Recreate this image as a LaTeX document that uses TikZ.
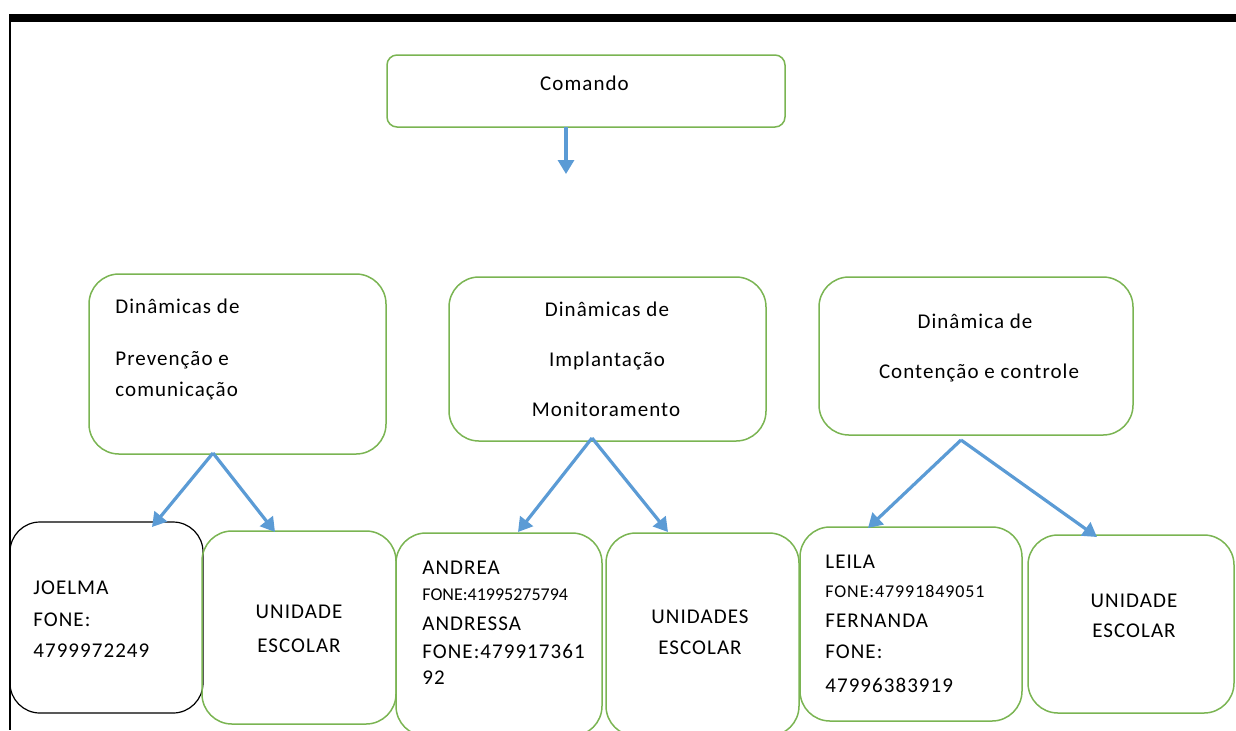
\documentclass[tikz,border=0pt]{standalone}
\usepackage{fontspec}
\setmainfont{Carlito}[LetterSpace=5]
\usetikzlibrary{arrows.meta}
\definecolor{boxgreen}{HTML}{7AB452}
\definecolor{arrblue}{HTML}{5B9BD5}
\tikzset{
  gbox/.style={draw=boxgreen, line width=0.75pt, rounded corners=15pt, inner sep=0pt},
  bbox/.style={draw=black, line width=0.6pt, rounded corners=15pt, inner sep=0pt},
  arr/.style={draw=arrblue, line width=1.6pt, -{Triangle[width=8pt,length=7pt]}},
  tl/.style={anchor=base west, inner sep=0pt, font=\fontsize{10.5}{12}\selectfont},
  tc/.style={anchor=base, inner sep=0pt, font=\fontsize{10.5}{12}\selectfont},
  ts/.style={anchor=base west, inner sep=0pt, font=\fontsize{9}{11}\selectfont},
  tss/.style={anchor=base west, inner sep=0pt, font=\fontsize{9}{11}\selectfont\addfontfeature{LetterSpace=0}},
}
\begin{document}
\begin{tikzpicture}[x=0.5pt,y=-0.5pt]
\useasboundingbox (0,0) rectangle (1236,730);
\clip (0,0) rectangle (1236,730);
% frame
\fill[black] (9,14) rectangle (1236,21.5);
\draw[black, line width=0.8pt] (10,14) -- (10,730);
% boxes
\node[gbox, rounded corners=5pt, minimum width=199pt, minimum height=36pt] (cmd) at (586,91) {};
\node[gbox, minimum width=148.5pt, minimum height=90pt] (pa) at (237.5,364) {};
\node[gbox, minimum width=158.5pt, minimum height=82pt] (pb) at (607.5,359) {};
\node[gbox, minimum width=157pt, minimum height=79pt] (pc) at (976,356) {};
\node[bbox, minimum width=96.5pt, minimum height=95.5pt] (jo) at (106.5,617.5) {};
\node[gbox, minimum width=97pt, minimum height=96.5pt] (u1) at (299,627.5) {};
\node[gbox, minimum width=103pt, minimum height=101.5pt] (an) at (499,634.5) {};
\node[gbox, minimum width=96.5pt, minimum height=101.5pt] (u2) at (702.5,634.5) {};
\node[gbox, minimum width=111pt, minimum height=97pt] (le) at (911,624) {};
\node[gbox, minimum width=103pt, minimum height=89pt] (u3) at (1131,624) {};
% texts
\node[tc] (tcmd) at (584.5,90) {Comando};
\node[tl] (ta1) at (115,313) {Dinâmicas de};
\node[tl] (ta2) at (115,365) {Prevenção e};
\node[tl] (ta3) at (115,396) {comunicação};
\node[tc] (tb1) at (607,316) {Dinâmicas de};
\node[tc] (tb2) at (607,366) {Implantação};
\node[tc] (tb3) at (606,416) {Monitoramento};
\node[tc] (tc1) at (975,328) {Dinâmica de};
\node[tc] (tc2) at (979,378) {Contenção e controle};
\node[tl] (tj1) at (33,594) {JOELMA};
\node[tl] (tj2) at (33,626) {FONE:};
\node[tl] (tj3) at (33,657) {4799972249};
\node[tc] (tu11) at (299,618) {UNIDADE};
\node[tc] (tu12) at (299,652) {ESCOLAR};
\node[tl] (tn1) at (422,574) {ANDREA};
\node[tss] (tn2) at (422,600) {FONE:41995275794};
\node[tl] (tn3) at (422,630) {ANDRESSA};
\node[tl] (tn4) at (422,658) {FONE:479917361};
\node[tl] (tn5) at (422,684) {92};
\node[tc] (tu21) at (700,623) {UNIDADES};
\node[tc] (tu22) at (700,654) {ESCOLAR};
\node[tl] (tl1) at (825,568) {LEILA};
\node[ts] (tl2) at (825,597) {FONE:47991849051};
\node[tl] (tl3) at (825,627) {FERNANDA};
\node[tl] (tl4) at (825,658) {FONE:};
\node[tl] (tl5) at (825,692) {47996383919};
\node[tc] (tu31) at (1134,607) {UNIDADE};
\node[tc] (tu32) at (1134,637) {ESCOLAR};
% arrow coordinates
\coordinate (c0) at (566,127);
\coordinate (c1) at (566,174);
\coordinate (a0) at (213,453);
\coordinate (a1) at (152,527);
\coordinate (a2) at (275,532);
\coordinate (b0) at (592,438);
\coordinate (b1) at (518,532);
\coordinate (b2) at (668,532);
\coordinate (k0) at (961,440);
\coordinate (k1) at (868,528);
\coordinate (k2) at (1097,537);
\draw[arr] (c0) -- (c1);
\draw[arr] (a0) -- (a1);
\draw[arr] (a0) -- (a2);
\draw[arr] (b0) -- (b1);
\draw[arr] (b0) -- (b2);
\draw[arr] (k0) -- (k1);
\draw[arr] (k0) -- (k2);
\end{tikzpicture}
\end{document}
